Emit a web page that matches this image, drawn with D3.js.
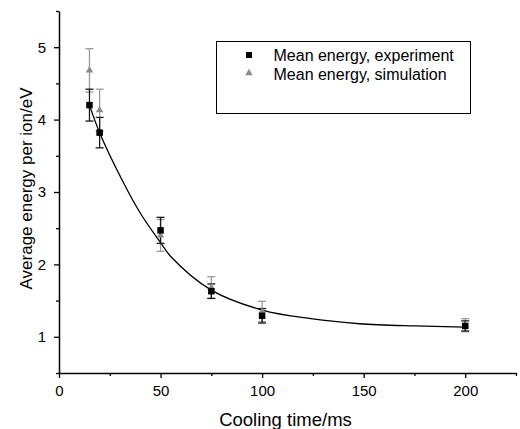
<!DOCTYPE html>
<html>
<head>
<meta charset="utf-8">
<script src="https://cdn.jsdelivr.net/npm/d3@7"></script>
<style>
  html, body { margin: 0; padding: 0; background: #fff; }
  svg { display: block; font-family: "Liberation Sans", Arial, sans-serif; }
</style>
</head>
<body>
<svg id="chart" width="520" height="429"></svg>
<script>
// Cooling times (ms)
const coolingTimes = [15, 20, 50, 75, 100, 200];

// Measured mean energy per ion (eV) and its uncertainty
const expEnergy = [4.20, 3.82, 2.47, 1.63, 1.29, 1.15];
const expError  = [0.22, 0.21, 0.18, 0.10, 0.10, 0.07];

// Simulated mean energy per ion (eV) and its uncertainty
const simEnergy = [4.68, 4.13, 2.40, 1.68, 1.35, 1.16];
const simError  = [0.30, 0.29, 0.22, 0.15, 0.14, 0.09];

// Exponential-decay fit through the experimental points
const fitTimes  = [15, 20, 31, 40, 50, 55, 75, 100, 124, 148, 175, 200];
const fitEnergy = [4.20, 3.82, 3.17, 2.71, 2.30, 2.11, 1.645, 1.37, 1.25, 1.18, 1.15, 1.135];

const xMajorTicks = [0, 50, 100, 150, 200];
const xMinorTicks = [25, 75, 125, 175, 225];
const yMajorTicks = [1, 2, 3, 4, 5];
const yMinorTicks = [0.5, 1.5, 2.5, 3.5, 4.5, 5.5];

const legendLabels = ["Mean energy, experiment", "Mean energy, simulation"];

const svg = d3.select("#chart");
const plotLeft = 59, plotRight = 516, plotTop = 11, plotBottom = 373;

const x = d3.scaleLinear().domain([0, 225]).range([plotLeft, plotRight]);
const y = d3.scaleLinear().domain([0.5, 5.5]).range([plotBottom, plotTop]);

const axisColor = "#000";

// Minor ticks
svg.append("g")
  .attr("transform", `translate(0,${plotBottom})`)
  .call(d3.axisBottom(x).tickValues(xMinorTicks).tickSize(3).tickFormat(""))
  .call(g => g.select(".domain").remove())
  .call(g => g.selectAll("line").attr("stroke-width", 1.3));
svg.append("g")
  .attr("transform", `translate(${plotLeft},0)`)
  .call(d3.axisLeft(y).tickValues(yMinorTicks).tickSize(3).tickFormat(""))
  .call(g => g.select(".domain").remove())
  .call(g => g.selectAll("line").attr("stroke-width", 1.3));

// Major axes
const xAxis = svg.append("g")
  .attr("transform", `translate(0,${plotBottom})`)
  .call(d3.axisBottom(x).tickValues(xMajorTicks).tickFormat(d3.format("d"))
    .tickSizeInner(5).tickSizeOuter(0).tickPadding(7));
const yAxis = svg.append("g")
  .attr("transform", `translate(${plotLeft},0)`)
  .call(d3.axisLeft(y).tickValues(yMajorTicks).tickFormat(d3.format("d"))
    .tickSizeInner(5).tickSizeOuter(0).tickPadding(8));

[xAxis, yAxis].forEach(a => {
  a.select(".domain").attr("stroke-width", 1.5).attr("stroke", axisColor);
  a.selectAll(".tick line").attr("stroke-width", 1.3);
  a.selectAll(".tick text")
    .attr("font-size", 15)
    .attr("font-family", "Liberation Sans, Arial, sans-serif")
    .attr("fill", "#000");
});

// Axis titles
svg.append("text")
  .attr("x", 285.5)
  .attr("y", 426)
  .attr("text-anchor", "middle")
  .attr("font-size", 18.5)
  .text("Cooling time/ms");
svg.append("text")
  .attr("transform", "translate(32,188.5) rotate(-90)")
  .attr("text-anchor", "middle")
  .attr("font-size", 17)
  .text("Average energy per ion/eV");

// Fit curve
const line = d3.line()
  .x((d, i) => x(fitTimes[i]))
  .y(d => y(d))
  .curve(d3.curveCatmullRom);
svg.append("path")
  .datum(fitEnergy)
  .attr("d", line)
  .attr("fill", "none")
  .attr("stroke", "#000")
  .attr("stroke-width", 1.3);

// Error bars
function errorBars(values, errors, color) {
  const capHalf = 4;
  const g = svg.append("g").attr("stroke", color).attr("stroke-width", 1.3).attr("fill", "none");
  coolingTimes.forEach((t, i) => {
    const cx = x(t), y0 = y(values[i] - errors[i]), y1 = y(values[i] + errors[i]);
    g.append("line").attr("x1", cx).attr("x2", cx).attr("y1", y0).attr("y2", y1);
    g.append("line").attr("x1", cx - capHalf).attr("x2", cx + capHalf).attr("y1", y0).attr("y2", y0);
    g.append("line").attr("x1", cx - capHalf).attr("x2", cx + capHalf).attr("y1", y1).attr("y2", y1);
  });
}
errorBars(simEnergy, simError, "#9a9a9a");
errorBars(expEnergy, expError, "#1a1a1a");

const triSym = d3.symbol().type(d3.symbolTriangle).size(24);
const sqSize = 6.5;

// Simulation markers
svg.append("g").selectAll("path")
  .data(simEnergy)
  .join("path")
  .attr("d", triSym)
  .attr("transform", (d, i) => `translate(${x(coolingTimes[i])},${y(d)})`)
  .attr("fill", "#8a8a8a");

// Experiment markers
svg.append("g").selectAll("rect")
  .data(expEnergy)
  .join("rect")
  .attr("x", (d, i) => x(coolingTimes[i]) - sqSize / 2)
  .attr("y", d => y(d) - sqSize / 2)
  .attr("width", sqSize)
  .attr("height", sqSize)
  .attr("fill", "#000");

// Legend
const legend = svg.append("g");
legend.append("rect")
  .attr("x", 216.5).attr("y", 41.5)
  .attr("width", 254).attr("height", 72)
  .attr("fill", "#fff")
  .attr("stroke", "#000")
  .attr("stroke-width", 1);
legend.append("rect")
  .attr("x", 249 - 3).attr("y", 55 - 3)
  .attr("width", 6).attr("height", 6)
  .attr("fill", "#000");
legend.append("path")
  .attr("d", triSym)
  .attr("transform", "translate(249,73)")
  .attr("fill", "#8a8a8a");
legend.selectAll("text.lbl")
  .data(legendLabels)
  .join("text")
  .attr("class", "lbl")
  .attr("x", 273.5)
  .attr("y", (d, i) => 61 + i * 18.5)
  .attr("font-size", 16)
  .text(d => d);
</script>
</body>
</html>
